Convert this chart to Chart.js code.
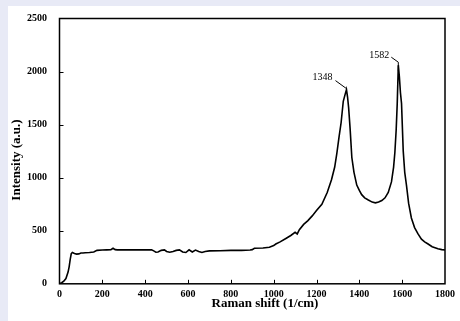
<!DOCTYPE html>
<html>
<head>
<meta charset="utf-8">
<script src="https://cdn.jsdelivr.net/npm/chart.js@4/dist/chart.umd.min.js"></script>
<style>
  html, body { margin: 0; padding: 0; background: #e8eaf6; }
  canvas { display: block; }
</style>
</head>
<body>
<canvas id="c" width="460" height="321" style="width:460px;height:321px"></canvas>
<script>
// ---- data ----
const ramanShift = [0,10,20,30,40,45,50,55,60,65,70,80,90,100,110,120,140,160,175,200,220,240,250,260,270,300,350,400,430,440,450,460,475,490,500,515,530,545,560,575,590,605,620,635,650,665,680,700,750,800,850,890,900,910,950,980,1000,1010,1030,1055,1080,1100,1110,1120,1140,1160,1180,1200,1225,1250,1270,1285,1295,1305,1315,1325,1333,1340,1345,1350,1357,1365,1375,1388,1400,1411,1425,1442,1460,1475,1490,1505,1520,1535,1550,1560,1566,1572,1577,1582,1587,1592,1597,1605,1612,1620,1630,1643,1658,1674,1690,1705,1721,1740,1767,1785,1800];
const intensity = [0,10,25,50,110,160,230,285,295,290,285,280,282,290,290,292,295,300,315,318,320,322,335,322,320,320,320,320,320,310,298,300,315,320,305,298,305,315,320,300,295,320,300,318,305,295,305,310,312,315,315,318,322,335,338,345,360,375,395,425,455,485,470,510,560,595,640,690,750,860,980,1100,1230,1380,1520,1720,1780,1830,1760,1660,1460,1190,1050,930,880,840,810,790,770,763,770,785,810,860,960,1100,1240,1450,1700,2060,1950,1800,1700,1250,1050,930,760,620,530,470,420,395,375,350,330,322,318];
const xTicks = [0,200,400,600,800,1000,1200,1400,1600,1800];
const yTicks = [0,500,1000,1500,2000,2500];
const peakLabels = ["1348","1582"];
const peakShift = [1340,1582];
const peakIntensity = [1830,2060];
const xTitle = "Raman shift (1/cm)";
const yTitle = "Intensity (a.u.)";

const FONT = "'Liberation Serif','Times New Roman',serif";
const points = ramanShift.map((x,i)=>({x:x, y:intensity[i]}));

const framePlugin = {
  id: 'frame',
  beforeDraw(chart) {
    const ctx = chart.ctx;
    ctx.save();
    ctx.fillStyle = '#e8eaf6';
    ctx.fillRect(0,0,chart.width,chart.height);
    ctx.fillStyle = '#ffffff';
    ctx.fillRect(8,6,chart.width-8,chart.height-6);
    ctx.restore();
  },
  afterDraw(chart) {
    const ctx = chart.ctx, a = chart.chartArea;
    const xs = chart.scales.x, ys = chart.scales.y;
    ctx.save();
    ctx.strokeStyle = '#000';
    ctx.lineWidth = 1.5;
    ctx.strokeRect(a.left, a.top, a.right-a.left, a.bottom-a.top);
    ctx.lineWidth = 1;
    ctx.beginPath();
    xTicks.slice(1,-1).forEach(v=>{
      const px = Math.round(xs.getPixelForValue(v))+0.5;
      ctx.moveTo(px, a.bottom); ctx.lineTo(px, a.bottom-4);
    });
    yTicks.slice(1,-1).forEach(v=>{
      const py = Math.round(ys.getPixelForValue(v))+0.5;
      ctx.moveTo(a.left, py); ctx.lineTo(a.left+4, py);
    });
    ctx.stroke();

    // peak annotations
    ctx.font = "10px " + FONT;
    ctx.fillStyle = '#000';
    ctx.textAlign = 'right';
    ctx.textBaseline = 'middle';
    let px = xs.getPixelForValue(peakShift[0]), py = ys.getPixelForValue(peakIntensity[0]);
    ctx.beginPath();
    ctx.moveTo(px, py-1); ctx.lineTo(px-11, py-9);
    ctx.stroke();
    ctx.fillText(peakLabels[0], px-14, py-12);
    px = xs.getPixelForValue(peakShift[1]); py = ys.getPixelForValue(peakIntensity[1]);
    ctx.beginPath();
    ctx.moveTo(px, py+6); ctx.lineTo(px, py-3); ctx.lineTo(px-7, py-8);
    ctx.stroke();
    ctx.fillText(peakLabels[1], px-9, py-10);

    // axis titles
    ctx.font = "bold 13px " + FONT;
    ctx.textAlign = 'center';
    ctx.textBaseline = 'middle';
    ctx.fillText(xTitle, 265, 304);
    ctx.translate(17, 160);
    ctx.rotate(-Math.PI/2);
    ctx.fillText(yTitle, 0, 0);
    ctx.restore();
  }
};

new Chart(document.getElementById('c'), {
  type: 'line',
  data: { datasets: [{ data: points, borderColor: '#000', borderWidth: 1.6, pointRadius: 0, fill: false, tension: 0 }] },
  options: {
    responsive: false,
    animation: false,
    layout: { padding: { left: 0, top: 14.3, right: 12.5, bottom: 0 } },
    plugins: { legend: { display: false }, tooltip: { enabled: false } },
    scales: {
      x: {
        type: 'linear', min: 0, max: 1800,
        afterBuildTicks(s){ s.ticks = xTicks.map(v=>({value:v})); },
        ticks: { color: '#000', font: { family: FONT, size: 10, weight: 'bold' }, padding: 5, maxRotation: 0, autoSkip: false, callback: v => String(v) },
        grid: { display: false, drawTicks: false }, border: { display: false },
        afterFit(s){ s.height = 321 - 283.8; }
      },
      y: {
        type: 'linear', min: 0, max: 2500,
        afterBuildTicks(s){ s.ticks = yTicks.map(v=>({value:v})); },
        ticks: { color: '#000', font: { family: FONT, size: 10, weight: 'bold' }, padding: 12.5, autoSkip: false, callback: v => String(v) },
        grid: { display: false, drawTicks: false }, border: { display: false },
        afterFit(s){ s.width = 59.5; }
      }
    }
  },
  plugins: [framePlugin]
});
</script>
</body>
</html>
